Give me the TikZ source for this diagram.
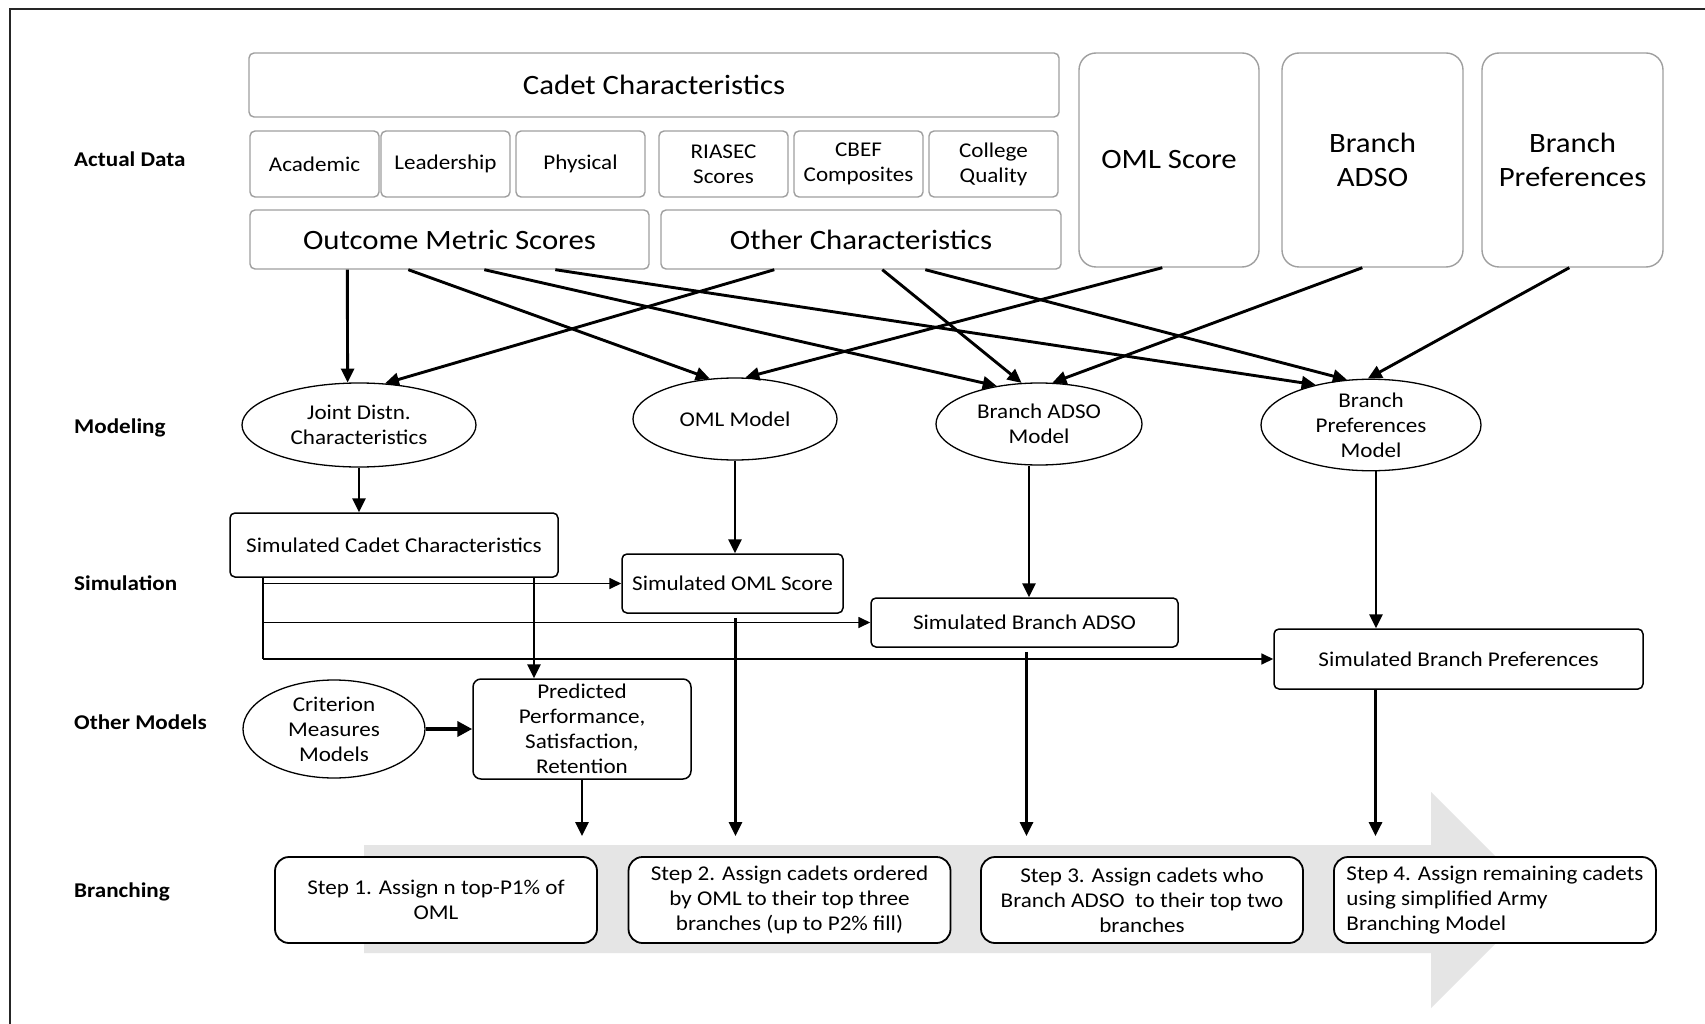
\documentclass[tikz,border=0pt]{standalone}
\usepackage{fontspec}
\setmainfont{Carlito}[FakeStretch=1.1]
\usetikzlibrary{shapes.geometric,arrows.meta}
\tikzset{
  graybig/.style={draw=gray!75, line width=1.4pt, fill=white, inner sep=0pt, align=center,
     font=\fontsize{28}{34}\selectfont},
  graysmall/.style={draw=gray!75, line width=1.4pt, rounded corners=5pt, fill=white, inner sep=0pt,
     align=center, minimum width=129pt, minimum height=66pt, font=\fontsize{21}{25}\selectfont},
  model/.style={ellipse, draw, line width=1.3pt, fill=white, inner sep=0pt, align=center,
     font=\fontsize{21}{25}\selectfont},
  simbox/.style={draw, line width=1.5pt, rounded corners=5pt, fill=white, inner sep=0pt, align=center,
     font=\fontsize{21}{25}\selectfont},
  stepbox/.style={draw, line width=1.8pt, rounded corners=14pt, fill=white, inner sep=0pt,
     minimum width=322pt, minimum height=86pt, font=\fontsize{21}{25}\selectfont},
  rowlab/.style={anchor=west, inner sep=0pt, font=\bfseries\fontsize{21}{25}\selectfont},
  arr/.style={line width=2.9pt, -{Triangle[length=14pt,width=13pt]}},
  feed/.style={line width=1.7pt, -{Triangle[length=12pt,width=11pt]}},
}
\begin{document}
\begin{tikzpicture}[x=1pt,y=-1pt]
\useasboundingbox (0,0) rectangle (1705,1024);
\fill[white] (0,0) rectangle (1705,1024);
\draw[line width=2pt, gray!30!black] (10,1024) -- (10,9) -- (1705,9);

% big gray arrow
\fill[gray!20] (364,845) -- (1431,845) -- (1431,792) -- (1539,900) -- (1431,1008) -- (1431,953) -- (364,953) -- cycle;

% row labels
\node[rowlab] (lad) at (74,159) {Actual Data};
\node[rowlab] (lmo) at (74,428) {Modeling};
\node[rowlab] (lsi) at (74,583) {Simulation};
\node[rowlab] (lot) at (74,722) {Other Models};
\node[rowlab] (lbr) at (74,892) {Branching};

% actual data
\node[graybig, rounded corners=5pt, minimum width=810pt, minimum height=64pt] (cc) at (654,85) {Cadet Characteristics};
\node[graysmall] (acad) at (314.5,164) {Academic};
\node[graysmall] (lead) at (445.5,164) {Leadership};
\node[graysmall] (phys) at (580.5,164) {Physical};
\node[graysmall] (ria) at (723.5,164) {RIASEC\\Scores};
\node[graysmall] (cbef) at (858.5,164) {CBEF\\Composites};
\node[graysmall] (coll) at (993.5,164) {College\\Quality};
\node[graybig, rounded corners=5pt, minimum width=399pt, minimum height=59pt] (oms) at (449.5,239.5) {Outcome Metric Scores};
\node[graybig, rounded corners=5pt, minimum width=400pt, minimum height=59pt] (oth) at (861,239.5) {Other Characteristics};
\node[graybig, rounded corners=17pt, minimum width=180pt, minimum height=214pt] (omls) at (1169,160) {OML Score};
\node[graybig, rounded corners=17pt, minimum width=181pt, minimum height=214pt] (bads) at (1372.5,160) {Branch\\ADSO};
\node[graybig, rounded corners=17pt, minimum width=181pt, minimum height=214pt] (bpref) at (1572.5,160) {Branch\\Preferences};

% models
\node[model, minimum width=234pt, minimum height=84pt] (joint) at (359,425) {Joint Distn.\\Characteristics};
\node[model, minimum width=204pt, minimum height=82pt] (omlm) at (735,419) {OML Model};
\node[model, minimum width=206pt, minimum height=82pt] (badsm) at (1039,424) {Branch ADSO\\Model};
\node[model, minimum width=220pt, minimum height=84pt] (bprefm) at (1371,425) {Branch\\Preferences\\Model};
\node[model, minimum width=182pt, minimum height=98pt] (crit) at (334,729) {Criterion\\Measures\\Models};

% simulation
\node[simbox, minimum width=328pt, minimum height=64pt] (simc) at (394,545) {Simulated Cadet Characteristics};
\node[simbox, minimum width=221pt, minimum height=59pt] (simo) at (732.5,583.5) {Simulated OML Score};
\node[simbox, minimum width=307pt, minimum height=49pt] (sima) at (1024.5,622.5) {Simulated Branch ADSO};
\node[simbox, minimum width=369pt, minimum height=60pt] (simp) at (1458.5,659) {Simulated Branch Preferences};
\node[simbox, minimum width=218pt, minimum height=100pt, rounded corners=8pt] (pred) at (582,729) {\raisebox{6pt}{\parbox{200pt}{\centering Predicted\\Performance,\\Satisfaction,\\Retention}}};

% branching steps
\node[stepbox, align=center] (s1) at (436,900) {Step 1. Assign n top-P1\% of\\OML};
\node[stepbox, align=center] (s2) at (789.5,900) {Step 2. Assign cadets ordered\\by OML to their top three\\branches (up to P2\% fill)};
\node[stepbox, align=center] (s3) at (1142,900) {Step 3. Assign cadets who\\Branch ADSO\ \ to their top two\\branches};
\node[stepbox, align=left] (s4) at (1495,900) {Step 4. Assign remaining cadets\\using simplified Army\\Branching Model};

% arrows actual data -> models
\draw[arr] ([xshift=98pt]oms.south west) -- (joint.105);
\draw[arr] ([xshift=159pt]oms.south west) -- (omlm.122);
\draw[arr] ([xshift=235pt]oms.south west) -- (badsm.138);
\draw[arr] ([xshift=306pt]oms.south west) -- (bprefm.144);
\draw[arr] ([xshift=114pt]oth.south west) -- (joint.58);
\draw[arr] ([xshift=222pt]oth.south west) -- (badsm.113);
\draw[arr] ([xshift=265pt]oth.south west) -- (bprefm.118);
\draw[arr] ([xshift=84pt]omls.south west) -- (omlm.76);
\draw[arr] ([xshift=81pt]bads.south west) -- (badsm.72);
\draw[arr] ([xshift=88pt]bpref.south west) -- (bprefm.94);

% models -> simulation
\draw[arr] (joint.south) -- (joint.south |- simc.north);
\draw[arr] (omlm.south) -- (omlm.south |- simo.north);
\draw[arr] ([xshift=-10pt]badsm.south) -- ([xshift=-10pt]badsm.south |- sima.north);
\draw[arr] ([xshift=5pt]bprefm.south) -- ([xshift=5pt]bprefm.south |- simp.north);

% feeders
\coordinate (fd) at ([xshift=-131pt]simc.south);
\draw[line width=1.7pt] (fd) -- (fd |- simp.west);
\draw[feed] (fd |- simo.west) -- (simo.west);
\draw[feed] (fd |- sima.west) -- (sima.west);
\draw[feed] (fd |- simp.west) -- (simp.west);
\draw[arr] ([xshift=140pt]simc.south) -- ([xshift=140pt]simc.south |- pred.north);

% other models
\draw[line width=4.5pt, -{Triangle[length=15pt,width=15pt]}] (crit.east) -- (pred.west);

% to branching
\draw[arr] (pred.south) -- ([yshift=20pt]pred.south |- s1.north);
\draw[arr] ([xshift=3pt,yshift=-4pt]simo.south) -- ([xshift=3pt,yshift=20pt]simo.south |- s2.north);
\draw[arr] ([xshift=2pt,yshift=-4pt]sima.south) -- ([xshift=2pt,yshift=20pt]sima.south |- s3.north);
\draw[arr] ([xshift=-83pt]simp.south) -- ([xshift=-83pt,yshift=20pt]simp.south |- s4.north);
\end{tikzpicture}
\end{document}
